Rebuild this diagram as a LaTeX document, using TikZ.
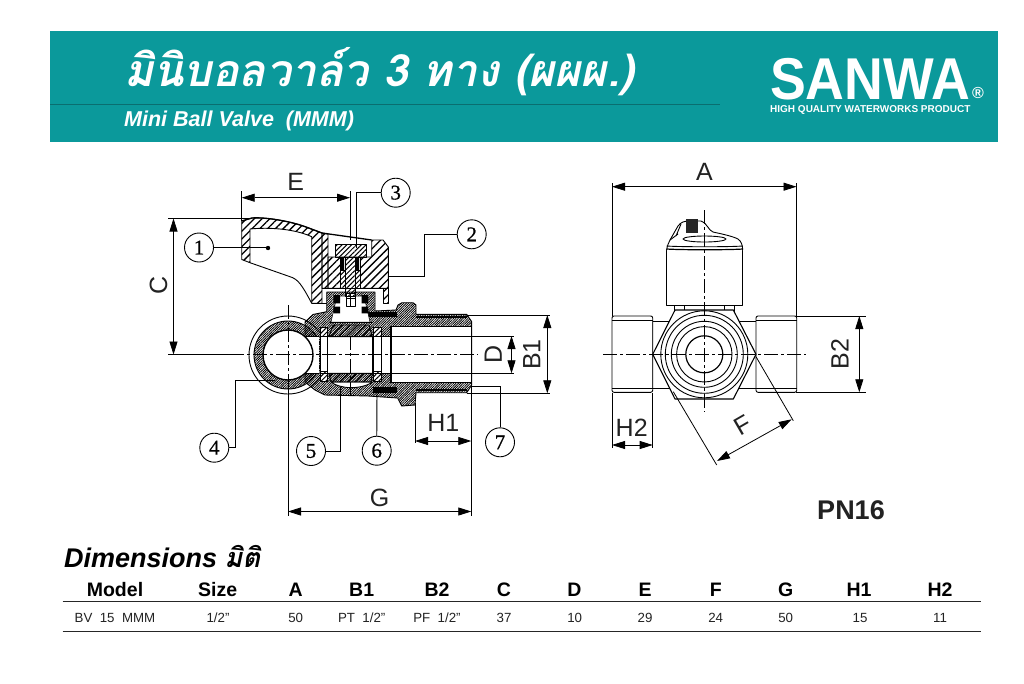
\documentclass[tikz,border=0pt]{standalone}
\usepackage{fontspec}
\setmainfont{Liberation Sans}
\newfontfamily\thaifont[Script=Thai]{Loma}
\newfontfamily\numfont[FakeBold=.7]{Liberation Serif}
\usetikzlibrary{arrows.meta,patterns.meta}
\definecolor{teal1}{HTML}{0B999B}
\definecolor{teal2}{HTML}{0A6E70}
\definecolor{ink}{HTML}{222222}
\tikzset{
 objline/.style={draw=black,line width=.9pt,line join=round},
 thinline/.style={draw=black,line width=.7pt},
 hatchA/.style={objline,pattern={Lines[angle=45,distance=5.5pt,line width=1.3pt]},pattern color=black},
 hatchB/.style={objline,pattern={Lines[angle=45,distance=3.4pt,line width=1pt]},pattern color=black},
 dense/.style={objline,pattern={Lines[angle=45,distance=1.7pt,line width=.85pt]},pattern color=black},
 cross/.style={draw=black,line width=.5pt,pattern={Lines[angle=-45,distance=3.4pt,line width=1pt]},pattern color=black},
 cen/.style={draw=black,line width=.7pt,dash pattern=on 14pt off 3pt on 3pt off 3pt},
 dimline/.style={draw=black,line width=.8pt,{Triangle[length=13pt,width=8pt]}-{Triangle[length=13pt,width=8pt]}},
 extline/.style={draw=black,line width=.8pt},
 dimtext/.style={font=\fontsize{25}{25}\selectfont,text=ink,inner sep=0pt},
 numc/.style={circle,draw=black,line width=.9pt,minimum size=29pt,inner sep=0pt,font=\numfont\fontsize{21}{21}\selectfont},
 leader/.style={draw=black,line width=.9pt},
 head/.style={font=\bfseries\fontsize{19.5}{20}\selectfont,text=black,inner sep=0pt},
 cell/.style={font=\fontsize{13.3}{13}\selectfont,text=ink,inner sep=0pt},
}
\begin{document}
\begin{tikzpicture}[x=1pt,y=-1pt]
\useasboundingbox (0,0) rectangle (1024,683);
\fill[white] (0,0) rectangle (1024,683);
% banner
\fill[teal1] (50,31) rectangle (998,142);
\draw[teal2,line width=1pt] (50,104) -- (720,104);
\node[anchor=west,text=white,inner sep=0pt,font=\thaifont\bfseries\itshape\fontsize{44.5}{44}\selectfont] (title) at (124,72) {มินิบอลวาล์ว 3 ทาง (ผผผ.)};
\node[anchor=west,text=white,inner sep=0pt,font=\bfseries\itshape\fontsize{21.5}{21}\selectfont] (subtitle) at (124,121) {Mini Ball Valve\ \ (MMM)};
\node[anchor=center,text=white,inner sep=0pt,text height=42pt,text depth=0pt,xscale=.91,transform shape,font=\bfseries\fontsize{59}{59}\selectfont] (sanwa) at (870,78) {SANWA};
\node[text=white,inner sep=0pt,font=\bfseries\fontsize{16}{16}\selectfont] (reg) at (978,93) {®};
\node[anchor=north west,text=white,inner sep=0pt,text height=7.2pt,text depth=0pt,font=\bfseries\fontsize{10}{10}\selectfont] (tag) at (770,104.6) {HIGH QUALITY WATERWORKS PRODUCT};

% ===== section view =====
% port outer ring
\draw[objline,fill=white] (288,355) circle (39);
\draw[dense] (288,355) circle (34);
% body
\draw[dense] (305,322) -- (313,314.5) -- (326.7,311.7) -- (326.7,292) -- (375,292) -- (375,311) -- (396,310) -- (398,305) -- (402,302.7) -- (413,302.7) -- (416,305) -- (416,314.3) -- (466.7,314.3) -- (471.7,321.7) -- (471.7,385) -- (466.7,392.7) -- (416,392.7) -- (415,405) -- (401.7,406) -- (397.7,398) -- (368.3,396) -- (325,395) -- (315,390) -- (305,382) -- cycle;
\fill[black] (367,312) rectangle (397,317);
\fill[black] (373,387) rectangle (397,393);
\draw[black,line width=1.2pt] (416,317) -- (467,317) (416,390) -- (467,390);
% passage
\fill[white] (300,336.7) rectangle (319.3,373.3);
\draw[objline] (306,336.7) -- (319.3,336.7) (306,373.3) -- (319.3,373.3);
% port bore
\draw[draw=black,line width=1.4pt,fill=white] (288,355) circle (25);
% ball cavity
\fill[white] (319.5,336.7) rectangle (391,373.3);
\draw[objline,fill=white] (331,382) .. controls (340,389) and (360,390) .. (373,382) -- cycle;
\draw[objline,fill=white] (320,327.3) rectangle (327.3,381.7);
\draw[objline,fill=white] (373.3,327.3) rectangle (381.7,381.7);
\draw[hatchB] (320,327.3) rectangle (327.3,336.7);
\draw[hatchB] (373.3,327.3) rectangle (381.7,336.7);
\draw[hatchB] (320,371.7) rectangle (327.3,381.7);
\draw[hatchB] (373.3,371.7) rectangle (381.7,381.7);
\draw[hatchA] (329,336.7) -- (333,325) -- (369,325) -- (372.5,336.7) -- cycle;
\draw[hatchA] (329,373.3) -- (372.5,373.3) -- (371,382) -- (331,382) -- cycle;
\draw[objline,line width=1.3pt] (327.3,336.7) rectangle (372.5,373.3);
\draw[objline] (320,373.3) -- (327.3,373.3) (373,373.3) -- (391,373.3) (373,336.7) -- (391,336.7);
% threaded bore
\draw[draw=black,line width=1.2pt,fill=white] (471.7,326.7) -- (391,326.7) -- (391,382.3) -- (471.7,382.3);
\draw[draw=black,line width=1.2pt] (471.7,321.7) -- (471.7,385);
% stem and packing
\draw[cross,fill=white] (337,296) -- (364,296) -- (370,322) -- (331,322) -- cycle;
\draw[objline,fill=white] (346,293) rectangle (355,306);
\draw[thinline] (346,298) -- (355,298) (350.5,293) -- (350.5,306);
\fill[black] (333.3,295) rectangle (340,303.3) (361.7,295) rectangle (368.3,303.3) (333.3,306.7) rectangle (340,313.3) (361.7,306.7) rectangle (368.3,313.3);
\draw[objline] (330,322) -- (372,322);
% handle
\draw[hatchA] (241.7,259.5) -- (241.7,221) -- (252,218) .. controls (265,217) and (290,221) .. (306,227) -- (322,233) -- (322,303.3) -- (311.7,303.3) -- (311.7,236.7) .. controls (295,229) and (270,227) .. (250,229) -- (250,262.7) -- cycle;
\draw[objline,line width=1.3pt] (241.7,221) -- (252,218) .. controls (265,217) and (290,221) .. (306,227) -- (322,233) -- (371.7,240);
\draw[objline] (250,262.7) -- (290,276.7) .. controls (298,279) and (302,285) .. (311.7,303.3);
\draw[hatchA] (322,233) -- (328,234) -- (328,288.3) -- (322,288.3) -- cycle;
\draw[hatchA] (371.7,240) -- (383,240) -- (388.3,247) -- (388.3,288.3) -- (328,288.3) -- (328,257) -- (371.7,257) -- cycle;
\draw[hatchA] (383.3,288.3) rectangle (388.3,303.3);
\draw[objline] (322,303.3) -- (326.7,303.3);
\draw[hatchB] (335,244) rectangle (366,257);
\draw[objline,fill=white] (340,257) rectangle (360,288.3);
\draw[hatchB] (345,257) rectangle (355,296);
\draw[hatchB] (340,270) rectangle (345,288);
\draw[hatchB] (355,270) rectangle (360,288);
\fill[black] (341,257) rectangle (344,270) (356,257) rectangle (359,270);
\fill[black] (268,248) circle (2.2);

% centre lines, section view
\coordinate (clL) at (230,354.5); \coordinate (clR) at (478,354.5);
\draw[cen] (clL) -- (clR);
\coordinate (pT) at (288,305); \coordinate (pB) at (288,386);
\draw[cen] (pT) -- (pB);
\coordinate (bT) at (350,336); \coordinate (bB) at (350,397);
\draw[cen] (bT) -- (bB);

% dimensions, section view
\coordinate (eL) at (241.7,197.7); \coordinate (eR) at (350,197.7);
\coordinate (eL0) at (241.7,191); \coordinate (eL1) at (241.7,221);
\coordinate (eR0) at (350,191); \coordinate (eR1) at (350,240);
\draw[extline] (eL0) -- (eL1);
\draw[extline] (eR0) -- (eR1);
\draw[dimline] (eL) -- (eR);
\node[dimtext] (lblE) at (295.7,181.5) {E};
\coordinate (c0) at (168,218.5); \coordinate (c1) at (250,218.5);
\coordinate (c2) at (168,354.5); \coordinate (c3) at (230,354.5);
\draw[extline] (c0) -- (c1);
\draw[extline] (c2) -- (c3);
\coordinate (cT) at (173.5,218.5); \coordinate (cB) at (173.5,354.5);
\draw[dimline] (cT) -- (cB);
\node[dimtext,rotate=90] (lblC) at (158.5,285.7) {C};
\coordinate (d0) at (392,336); \coordinate (d1) at (514,336);
\coordinate (d2) at (392,373.3); \coordinate (d3) at (514,373.3);
\draw[extline] (d0) -- (d1);
\draw[extline] (d2) -- (d3);
\coordinate (dT) at (511.5,336); \coordinate (dB) at (511.5,373.3);
\draw[dimline] (dT) -- (dB);
\node[dimtext,rotate=90] (lblD) at (493.3,354.5) {D};
\coordinate (b0) at (466.7,315); \coordinate (b1) at (550,315);
\coordinate (b2) at (466.7,393.3); \coordinate (b3) at (550,393.3);
\draw[extline] (b0) -- (b1);
\draw[extline] (b2) -- (b3);
\coordinate (bbT) at (547.3,315); \coordinate (bbB) at (547.3,393.3);
\draw[dimline] (bbT) -- (bbB);
\node[dimtext,rotate=90] (lblBa) at (531.7,354.5) {B1};
\coordinate (h0) at (415,403); \coordinate (h1) at (415,443);
\coordinate (g0) at (471.3,385); \coordinate (g1) at (471.3,516);
\coordinate (g2) at (288,386); \coordinate (g3) at (288,516);
\draw[extline] (h0) -- (h1);
\draw[extline] (g0) -- (g1);
\draw[extline] (g2) -- (g3);
\coordinate (hL) at (415,441); \coordinate (hR) at (471.3,441);
\draw[dimline] (hL) -- (hR);
\node[dimtext] (lblHa) at (443.3,422.5) {H1};
\coordinate (gL) at (288,511.5); \coordinate (gR) at (471.3,511.5);
\draw[dimline] (gL) -- (gR);
\node[dimtext] (lblG) at (379.5,497.5) {G};

% balloons
\node[numc] (n1) at (199,247.5) {1};
\node[numc] (n2) at (471.7,234.3) {2};
\node[numc] (n3) at (395.7,192.7) {3};
\node[numc] (n4) at (214.3,447.7) {4};
\node[numc] (n5) at (311,451) {5};
\node[numc] (n6) at (376.7,450.7) {6};
\node[numc] (n7) at (500,442.3) {7};
\coordinate (t1) at (268,247.5);
\coordinate (t2a) at (424,234.3); \coordinate (t2b) at (424,276.7); \coordinate (t2c) at (388.3,276.7);
\coordinate (t3a) at (356.7,192.7); \coordinate (t3b) at (356.7,248);
\coordinate (t4a) at (235.7,447.7); \coordinate (t4b) at (235.7,380); \coordinate (t4c) at (275,380);
\coordinate (t5a) at (340,451); \coordinate (t5b) at (340,387);
\coordinate (t6) at (377,388);
\coordinate (t7a) at (500,386.7); \coordinate (t7b) at (470.7,386.7);
\draw[leader] (n1) -- (t1);
\draw[leader] (n2) -- (t2a) -- (t2b) -- (t2c);
\draw[leader] (n3) -- (t3a) -- (t3b);
\draw[leader] (n4) -- (t4a) -- (t4b) -- (t4c);
\draw[leader] (n5) -- (t5a) -- (t5b);
\draw[leader] (n6) -- (t6);
\draw[leader] (n7) -- (t7a) -- (t7b);

% ===== end view =====
% handle
\draw[objline,fill=white] (674.3,305.7) -- (674.3,315) (684.3,305.7) -- (684.3,311) (724.3,305.7) -- (724.3,311) (734.3,305.7) -- (734.3,315);
\draw[objline] (684.3,310) -- (724.3,310);
\draw[objline,fill=white] (666.7,249) -- (666.7,305.7) -- (742.7,305.7) -- (742.7,249);
\draw[objline,fill=white] (666.7,250) .. controls (667,245) and (669,243) .. (670,240) -- (678,226) .. controls (681,222) and (684,221) .. (690,221) -- (701,221) .. controls (708,224) and (708,230) .. (713,232) .. controls (722,234) and (732,236) .. (738,239) .. controls (741,241) and (742.7,245) .. (742.7,250);
\draw[objline,line width=1.2pt] (666.7,249) .. controls (680,250) and (730,250) .. (742.7,249);
\draw[objline] (666.7,246) .. controls (680,247) and (730,247) .. (742.7,246);
\draw[objline,fill=white] (704.5,239) ellipse (21.5 and 3);
\draw[objline] (670,240) -- (678,234) (681,224) -- (676,236);
\fill[black!85] (686,219.3) rectangle (698.3,232.7);
% side stubs
\draw[objline,fill=white] (652.7,321) rectangle (756,388.3);
\draw[objline,fill=white,rounded corners=2pt] (612,316) rectangle (652.7,392.3);
\draw[objline,fill=white,rounded corners=2pt] (756,316) rectangle (796.7,392.3);
\draw[objline] (612,320.7) -- (652.7,320.7) (612,388.3) -- (652.7,388.3) (756,320.7) -- (796.7,320.7) (756,388.3) -- (796.7,388.3);
% hexagon and rings
\draw[objline,line width=1.1pt,fill=white] (652.7,354.3) -- (675,310) -- (733.3,310) -- (756,354.3) -- (733.3,399) -- (675,399) -- cycle;
\begin{scope}
\clip (652.7,354.3) -- (675,310) -- (733.3,310) -- (756,354.3) -- (733.3,399) -- (675,399) -- cycle;
\draw[objline] (704.3,354.3) circle (43.5);
\end{scope}
\draw[objline] (704.3,354.3) circle (39);
\draw[objline] (704.3,354.3) circle (33);
\draw[objline] (704.3,354.3) circle (27.7);
\draw[objline,line width=1.2pt] (704.3,354.3) circle (18.5);
% centre lines
\coordinate (vT) at (704.3,210); \coordinate (vB) at (704.3,412);
\coordinate (wL) at (603,354.3); \coordinate (wR) at (806,354.3);
\draw[cen] (vT) -- (vB);
\draw[cen] (wL) -- (wR);
% dimensions
\coordinate (aL0) at (612,183); \coordinate (aL1) at (612,316);
\coordinate (aR0) at (796.5,183); \coordinate (aR1) at (796.5,316);
\draw[extline] (aL0) -- (aL1);
\draw[extline] (aR0) -- (aR1);
\coordinate (aL) at (612,186.7); \coordinate (aR) at (796.5,186.7);
\draw[dimline] (aL) -- (aR);
\node[dimtext] (lblA) at (704.5,171.7) {A};
\coordinate (q0) at (796,316); \coordinate (q1) at (866,316);
\coordinate (q2) at (796,392.3); \coordinate (q3) at (866,392.3);
\draw[extline] (q0) -- (q1);
\draw[extline] (q2) -- (q3);
\coordinate (qT) at (859.3,316); \coordinate (qB) at (859.3,392.3);
\draw[dimline] (qT) -- (qB);
\node[dimtext,rotate=90] (lblBb) at (840,354.3) {B2};
\coordinate (r0) at (612,393); \coordinate (r1) at (612,448);
\coordinate (r2) at (652.7,393); \coordinate (r3) at (652.7,448);
\draw[extline] (r0) -- (r1);
\draw[extline] (r2) -- (r3);
\coordinate (rL) at (612,445); \coordinate (rR) at (652.7,445);
\draw[dimline] (rL) -- (rR);
\node[dimtext] (lblHb) at (631.7,427.7) {H2};
\coordinate (f0) at (673.3,391.7); \coordinate (f1) at (716.7,465);
\coordinate (f2) at (756,356.7); \coordinate (f3) at (793.3,420.7);
\draw[extline] (f0) -- (f1);
\draw[extline] (f2) -- (f3);
\coordinate (fA) at (717,461); \coordinate (fB) at (791.7,419.3);
\draw[dimline] (fA) -- (fB);
\node[dimtext,rotate=30] (lblF) at (742.7,425) {F};
\node[font=\bfseries\fontsize{27}{27}\selectfont,text=ink,inner sep=0pt] (pn) at (851,510.5) {PN16};

% ===== table =====
\node[anchor=west,inner sep=0pt,text=black,font=\bfseries\itshape\fontsize{27}{27}\selectfont] (dimt) at (64,557) {Dimensions {\thaifont มิติ}};
\coordinate (ra) at (62.5,601.5); \coordinate (rb) at (981,601.5);
\coordinate (rc) at (62.5,631.5); \coordinate (rd) at (981,631.5);
\draw[black!85,line width=1.3pt] (ra) -- (rb);
\draw[black!85,line width=1.3pt] (rc) -- (rd);
\node[head] (h1) at (115,589.5) {Model};
\node[head] (h2) at (217.7,589.5) {Size};
\node[head] (h3) at (295.7,589.5) {A};
\node[head] (h4) at (361.7,589.5) {B1};
\node[head] (h5) at (437,589.5) {B2};
\node[head] (h6) at (504,589.5) {C};
\node[head] (h7) at (574.3,589.5) {D};
\node[head] (h8) at (645,589.5) {E};
\node[head] (h9) at (715.7,589.5) {F};
\node[head] (h10) at (785.7,589.5) {G};
\node[head] (h11) at (859,589.5) {H1};
\node[head] (h12) at (940,589.5) {H2};
\node[cell] (c1) at (115,617.7) {BV\ \ 15\ \ MMM};
\node[cell] (c2) at (218,617.7) {1/2"};
\node[cell] (c3) at (295.7,617.7) {50};
\node[cell] (c4) at (361.7,617.7) {PT\ \ 1/2"};
\node[cell] (c5) at (437,617.7) {PF\ \ 1/2"};
\node[cell] (c6) at (504,617.7) {37};
\node[cell] (c7) at (574.7,617.7) {10};
\node[cell] (c8) at (645,617.7) {29};
\node[cell] (c9) at (715.7,617.7) {24};
\node[cell] (c10) at (785.7,617.7) {50};
\node[cell] (c11) at (860,617.7) {15};
\node[cell] (c12) at (940,617.7) {11};
\end{tikzpicture}
\end{document}
